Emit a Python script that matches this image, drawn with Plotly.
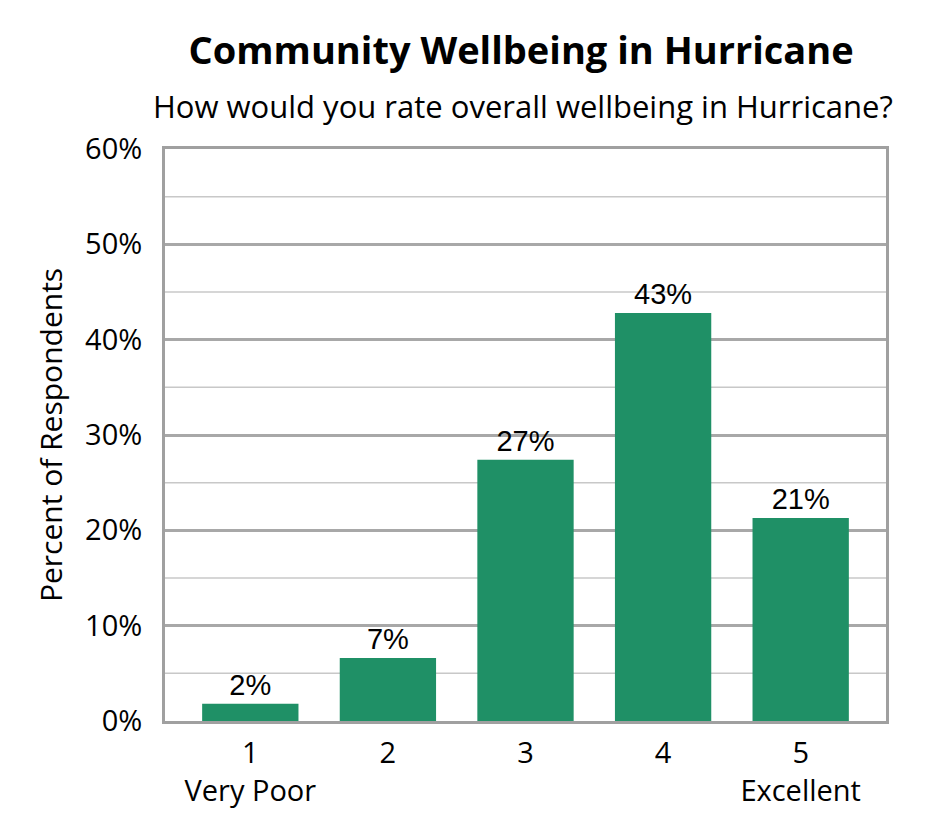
import plotly.graph_objects as go

categories = ["1<br>Very Poor", "2", "3", "4", "5<br>Excellent"]
percents = [1.8, 6.6, 27.4, 42.8, 21.3]
labels = ["2%", "7%", "27%", "43%", "21%"]

fig = go.Figure(go.Bar(
    x=categories,
    y=percents,
    text=labels,
    textposition="outside",
    textfont=dict(family="Liberation Sans", size=29, color="black"),
    cliponaxis=False,
    marker=dict(color="#1f9066", line=dict(width=0)),
))

# minor gridlines at 5% steps
for v in [5, 15, 25, 35, 45, 55]:
    fig.add_hline(y=v, line=dict(color="#c8c8c8", width=1.5), layer="below")

fig.update_layout(
    width=945, height=840,
    margin=dict(l=157, r=67, t=141, b=127),
    paper_bgcolor="white", plot_bgcolor="white",
    bargap=0.30,
    showlegend=False,
    font=dict(family="Open Sans", size=29, color="black"),
    title=dict(
        text="<b>Community Wellbeing in Hurricane</b>",
        x=0.543, xanchor="center", y=0.949, yanchor="middle",
        font=dict(family="Open Sans", size=38, color="black"),
    ),
    annotations=[dict(
        text="How would you rate overall wellbeing in Hurricane?",
        xref="paper", yref="paper", x=0.497, y=1.0, yanchor="middle",
        yshift=43, showarrow=False,
        font=dict(family="Open Sans", size=31, color="black"),
    )],
)
fig.update_xaxes(
    range=[-0.62, 4.62],
    showline=True, linecolor="#a0a0a0", linewidth=3, mirror=True,
    ticks="", tickfont=dict(size=29), ticklabelstandoff=4,
)
fig.update_yaxes(
    range=[0, 60], dtick=10, ticksuffix="%",
    showgrid=True, gridcolor="#a8a8a8", gridwidth=2.5,
    showline=True, linecolor="#a0a0a0", linewidth=3, mirror=True,
    zeroline=False, ticks="", tickfont=dict(size=29), ticklabelstandoff=14,
    title=dict(text="Percent of Respondents", font=dict(size=30), standoff=14),
)

fig.write_html("out.html")
